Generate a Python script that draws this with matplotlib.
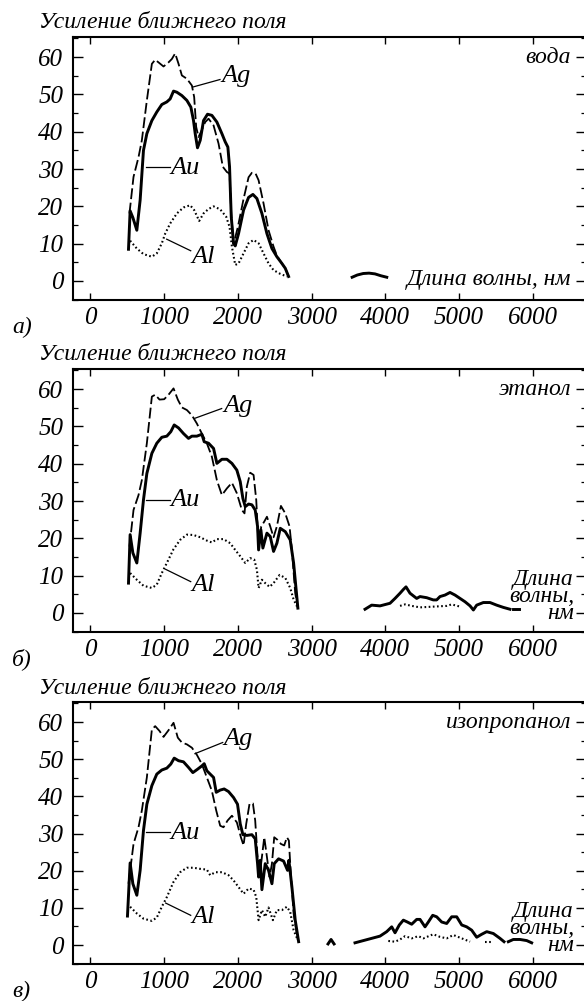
import numpy as np
import matplotlib
matplotlib.use("Agg")
import matplotlib.pyplot as plt
from matplotlib.ticker import MultipleLocator

plt.rcParams['font.family'] = ['Liberation Serif', 'DejaVu Serif']
plt.rcParams['font.style'] = 'italic'

# ---------------- data: panel a (water) ----------------
water_au_x = [516, 538, 575, 629, 674, 719, 765, 833, 900, 968, 1036, 1081, 1127, 1172, 1240, 1308, 1362, 1398,
              1421, 1452, 1489, 1534, 1588, 1647, 1715, 1783, 1828, 1864, 1887, 1910, 1941, 1964, 2009, 2077,
              2145, 2204, 2258, 2326, 2394, 2462, 2529, 2597, 2643, 2688]
water_au_y = [8.5, 18.8, 17.0, 13.6, 21.7, 35.0, 39.5, 43.0, 45.3, 47.3, 48.0, 48.8, 50.9, 50.6, 49.7, 48.4, 46.6, 43.0,
              39.5, 35.7, 37.7, 43.0, 44.7, 44.4, 42.6, 39.5, 37.3, 35.9, 30.6, 17.2, 10.1, 9.4, 12.7, 19.0,
              22.4, 23.2, 22.1, 18.1, 12.7, 8.7, 6.5, 4.7, 3.4, 1.2]
water_ag_x = [529, 584, 652, 697, 765, 833, 878, 923, 991, 1059, 1104, 1149, 1195, 1240, 1308, 1376, 1407, 1434,
              1466, 1498, 1557, 1602, 1670, 1738, 1796, 1851, 1887, 1910, 1941, 2000, 2077, 2145, 2190, 2240,
              2281, 2348, 2416, 2484, 2529, 2597, 2643, 2688]
water_ag_y = [18.1, 27.9, 33.2, 37.7, 48.4, 58.2, 59.3, 58.6, 57.5, 58.6, 59.5, 61.0, 58.2, 55.1, 54.2, 52.4, 49.3, 41.3,
              38.6, 39.9, 42.6, 43.5, 41.7, 36.8, 30.6, 29.2, 28.8, 18.1, 9.8, 14.5, 22.0, 27.8, 29.0, 28.8,
              27.0, 20.8, 13.6, 9.2, 6.8, 4.7, 3.4, 1.2]
water_al_x = [538, 629, 719, 833, 900, 968, 1014, 1081, 1172, 1262, 1353, 1407, 1475, 1534, 1602, 1670, 1760, 1842,
              1887, 1919, 1964, 2009, 2077, 2145, 2213, 2281, 2348, 2416, 2484, 2575, 2665]
water_al_y = [10.8, 8.7, 7.2, 6.5, 7.4, 10.1, 12.7, 15.4, 18.1, 19.7, 20.3, 19.0, 16.1, 18.1, 19.3, 20.0, 19.2, 17.2,
              14.5, 9.2, 4.3, 4.7, 7.4, 10.1, 11.0, 10.1, 7.4, 4.7, 2.9, 1.9, 1.2]
water_au_tail_x = [3550, 3620, 3700, 3780, 3860, 3940, 4020]
water_au_tail_y = [1.0, 1.6, 2.0, 2.1, 1.9, 1.4, 1.0]

# ---------------- data: panel b (ethanol) ----------------
eth_au_x = [516, 538, 575, 629, 674, 719, 765, 833, 900, 968, 1036, 1090, 1136, 1195, 1262, 1330, 1376, 1443, 1511,
            1543, 1602, 1670, 1715, 1783, 1851, 1919, 1986, 2032, 2068, 2100, 2145, 2190, 2235, 2267, 2281, 2312,
            2339, 2394, 2439, 2484, 2529, 2575, 2643, 2710, 2756, 2814]
eth_au_y = [8.0, 21.0, 16.1, 13.4, 21.4, 30.3, 37.4, 42.8, 45.5, 47.1, 47.4, 48.6, 50.4, 49.6, 48.1, 46.8, 47.4, 47.4, 47.9,
            45.9, 45.5, 44.1, 40.1, 41.2, 41.2, 40.1, 38.3, 35.2, 30.7, 28.5, 29.2, 29.0, 27.6, 23.2, 16.9, 22.3,
            17.4, 21.4, 20.5, 16.5, 18.7, 22.7, 21.8, 19.6, 13.4, 1.3]
eth_ag_x = [529, 584, 652, 697, 765, 833, 878, 937, 1000, 1059, 1127, 1185, 1240, 1308, 1376, 1443, 1511, 1579, 1647,
            1715, 1783, 1851, 1919, 1986, 2054, 2090, 2122, 2167, 2213, 2249, 2281, 2317, 2358, 2394, 2439, 2484,
            2529, 2584, 2643, 2701, 2733, 2778, 2814]
eth_ag_y = [17.8, 27.6, 31.6, 35.6, 45.5, 58.0, 58.5, 57.2, 57.3, 58.5, 60.2, 57.2, 55.1, 54.4, 53.0, 50.8, 48.1, 45.5, 41.9,
            35.6, 31.6, 33.4, 34.9, 32.1, 27.6, 26.7, 33.9, 37.6, 37.0, 30.3, 17.8, 23.2, 24.5, 25.8, 23.2, 20.3,
            23.2, 28.7, 26.7, 23.2, 16.9, 5.3, 1.3]
eth_al_x = [538, 629, 719, 833, 900, 968, 1036, 1127, 1217, 1308, 1398, 1489, 1579, 1647, 1715, 1805, 1896, 1964, 2032,
            2100, 2167, 2222, 2258, 2281, 2326, 2371, 2430, 2484, 2566, 2643, 2710, 2756, 2801]
eth_al_y = [10.7, 8.9, 7.3, 6.7, 7.6, 10.7, 13.4, 17.1, 19.6, 21.0, 20.9, 20.3, 19.4, 18.9, 19.8, 19.8, 18.7, 16.9, 15.2,
            13.4, 14.7, 14.3, 11.6, 6.7, 8.9, 8.0, 7.0, 8.0, 10.2, 9.4, 6.7, 3.6, 1.8]
eth_au_tail_x = [3725, 3815, 3928, 4064, 4132, 4200, 4245, 4281, 4335, 4380, 4426, 4471, 4561, 4651, 4697, 4742, 4810,
                 4878, 4946, 5014, 5082, 5150, 5195, 5240, 5330, 5421, 5511, 5601, 5692]
eth_au_tail_y = [1.0, 2.1, 1.9, 2.6, 3.9, 5.3, 6.3, 7.0, 5.3, 4.6, 3.9, 4.4, 4.1, 3.5, 3.5, 4.4, 4.8,
                 5.5, 4.8, 3.9, 3.0, 1.9, 0.8, 2.1, 2.8, 2.8, 2.1, 1.5, 1.0]
eth_au_dash_x = [5735, 5815]
eth_au_dash_y = [1.0, 1.0]
eth_al_tail_x = [4200, 4268, 4358, 4471, 4651, 4833, 4901, 5014]
eth_al_tail_y = [1.9, 2.3, 1.9, 1.5, 1.7, 1.9, 2.3, 1.7]

# ---------------- data: panel c (isopropanol) ----------------
iso_au_x = [502, 538, 575, 629, 674, 719, 765, 833, 900, 968, 1036, 1090, 1136, 1195, 1262, 1330, 1389, 1452, 1511, 1543,
            1579, 1624, 1670, 1706, 1760, 1814, 1873, 1941, 1995, 2032, 2068, 2122, 2190, 2235, 2267, 2281, 2303,
            2326, 2371, 2416, 2462, 2493, 2552, 2620, 2674, 2692, 2733, 2778, 2824]
iso_au_y = [7.8, 22.1, 16.5, 13.4, 20.1, 30.8, 37.9, 42.9, 46.0, 47.1, 47.6, 48.7, 50.3, 49.6, 49.3, 47.8, 46.4, 47.3, 48.2, 48.8,
            46.9, 46.0, 45.1, 41.1, 41.7, 42.0, 41.3, 39.7, 37.9, 32.6, 29.7, 29.5, 29.7, 28.6, 21.9, 18.3, 22.8,
            14.9, 21.9, 20.1, 16.5, 21.9, 23.2, 22.6, 20.1, 22.8, 15.6, 6.7, 0.9]
iso_ag_x = [516, 584, 652, 697, 765, 833, 878, 937, 991, 1059, 1127, 1185, 1240, 1308, 1376, 1443, 1511, 1579, 1647, 1706,
            1760, 1805, 1860, 1919, 1986, 2041, 2077, 2113, 2158, 2204, 2235, 2267, 2294, 2326, 2358, 2394, 2430,
            2462, 2493, 2538, 2584, 2629, 2665, 2692, 2710, 2756, 2814]
iso_ag_y = [16.5, 27.2, 31.7, 36.2, 45.1, 58.0, 58.9, 57.6, 56.0, 57.8, 59.8, 55.8, 54.5, 54.0, 53.1, 51.2, 48.7, 45.1, 41.5, 36.2,
            32.1, 31.7, 33.5, 34.8, 33.0, 29.0, 26.8, 32.6, 38.0, 38.1, 33.5, 23.7, 18.3, 23.7, 29.0, 23.7, 18.3,
            21.9, 29.0, 28.3, 27.2, 26.8, 29.0, 28.1, 21.9, 8.5, 1.3]
iso_al_x = [538, 629, 719, 833, 900, 968, 1036, 1127, 1217, 1308, 1398, 1489, 1579, 1624, 1692, 1783, 1873, 1941, 2009,
            2077, 2145, 2213, 2249, 2281, 2326, 2371, 2416, 2475, 2529, 2597, 2665, 2710, 2756, 2814]
iso_al_y = [10.3, 8.5, 7.1, 6.5, 7.4, 10.3, 12.9, 17.0, 19.6, 20.8, 20.8, 20.5, 20.3, 18.8, 19.6, 19.6, 18.8, 17.4, 15.6,
            13.8, 15.2, 14.9, 12.9, 6.7, 9.4, 7.6, 10.1, 6.7, 9.4, 9.4, 10.3, 8.9, 4.0, 1.3]
iso_au_bump_x = [3223, 3264, 3305]
iso_au_bump_y = [0.3, 1.5, 0.3]
iso_au_tail_x = [3589, 3702, 3815, 3928, 4019, 4087, 4132, 4190, 4245, 4299, 4358, 4426, 4471, 4539, 4584, 4643, 4697,
                 4765, 4833, 4901, 4969, 5037, 5104, 5172, 5240, 5308, 5376, 5466, 5556, 5611]
iso_au_tail_y = [0.6, 1.2, 1.8, 2.4, 3.6, 4.9, 3.3, 5.4, 6.7, 6.2, 5.6, 6.9, 6.9, 4.9, 6.2, 8.0, 7.6,
                 6.2, 5.8, 7.6, 7.6, 5.4, 4.9, 4.0, 2.1, 2.9, 3.6, 3.1, 1.8, 0.9]
iso_au_tail2_x = [5669, 5737, 5828, 5919, 5986]
iso_au_tail2_y = [0.9, 1.5, 1.5, 1.2, 0.6]
iso_al_tail_x = [4041, 4132, 4200, 4268, 4358, 4448, 4516, 4651, 4742, 4833, 4923, 5037, 5150]
iso_al_tail_y = [1.1, 0.9, 1.5, 2.4, 1.8, 2.4, 1.8, 2.9, 2.2, 1.8, 2.7, 1.8, 0.9]
iso_al_tail2_x = [5353, 5466]
iso_al_tail2_y = [0.9, 0.9]

x_ticks = [0, 1000, 2000, 3000, 4000, 5000, 6000]
y_ticks = [0, 10, 20, 30, 40, 50, 60]
solvents = ['вода', 'этанол', 'изопропанол']
panel_labels = ['а)', 'б)', 'в)']
title_text = 'Усиление ближнего поля'

W, H = 584, 1001
fig = plt.figure(figsize=(W / 100, H / 100), dpi=100)

boxes = [(37, 300), (369, 632), (702, 964)]
left_px, right_px = 73, 586

FS = 17
TFS = 18
LFS = 19
AU = dict(color='black', lw=2.1, solid_joinstyle='round')
AG = dict(color='black', lw=1.3, dashes=(6, 2.0))
AL = dict(color='black', lw=1.5, linestyle=(0, (0.8, 1.2)))
LEAD = dict(color='black', lw=0.9)

panels = [
    dict(au=[(water_au_x, water_au_y), (water_au_tail_x, water_au_tail_y)],
         ag=[(water_ag_x, water_ag_y)],
         al=[(water_al_x, water_al_y)]),
    dict(au=[(eth_au_x, eth_au_y), (eth_au_tail_x, eth_au_tail_y), (eth_au_dash_x, eth_au_dash_y)],
         ag=[(eth_ag_x, eth_ag_y)],
         al=[(eth_al_x, eth_al_y), (eth_al_tail_x, eth_al_tail_y)]),
    dict(au=[(iso_au_x, iso_au_y), (iso_au_bump_x, iso_au_bump_y), (iso_au_tail_x, iso_au_tail_y),
             (iso_au_tail2_x, iso_au_tail2_y)],
         ag=[(iso_ag_x, iso_ag_y)],
         al=[(iso_al_x, iso_al_y), (iso_al_tail_x, iso_al_tail_y), (iso_al_tail2_x, iso_al_tail2_y)]),
]

ag_lead = [((1391, 52.0), (1757, 54.0), (1780, 55.0)),
           ((1418, 52.2), (1780, 54.8), (1800, 55.4)),
           ((1418, 51.5), (1794, 54.5), (1800, 55.4))]
au_lead = [((749, 30.6), (1079, 30.6), (1080, 30.3)),
           ((749, 30.3), (1079, 30.3), (1080, 30.3)),
           ((749, 30.3), (1079, 30.3), (1080, 30.1))]
al_lead = [((1034, 11.2), (1360, 8.1), (1375, 6.5)),
           ((1020, 11.7), (1360, 8.4), (1375, 7.5)),
           ((1020, 11.3), (1360, 8.0), (1365, 7.6))]

for i, (top, bot) in enumerate(boxes):
    ax = fig.add_axes([left_px / W, 1 - bot / H, (right_px - left_px) / W, (bot - top) / H])
    p = panels[i]
    for xs, ys in p['ag']:
        ax.plot(xs, ys, **AG)
    for xs, ys in p['al']:
        ax.plot(xs, ys, **AL)
    for xs, ys in p['au']:
        ax.plot(xs, ys, **AU)

    ax.set_xlim(-237, 6723)
    ax.set_ylim(-5.1, 65.4)
    ax.set_xticks(x_ticks)
    ax.set_xticklabels([str(t) for t in x_ticks], fontstyle='italic', fontsize=TFS)
    ax.set_yticks(y_ticks)
    ax.set_yticklabels([str(t) for t in y_ticks], fontstyle='italic', fontsize=TFS)
    ax.yaxis.set_minor_locator(MultipleLocator(5))
    ax.tick_params(axis='x', which='major', direction='in', top=True, bottom=True,
                   length=5, width=1.0, pad=5)
    ax.tick_params(axis='y', which='major', direction='in', left=True, right=True,
                   length=7, width=1.0, pad=7)
    ax.tick_params(axis='y', which='minor', direction='in', left=True, right=True,
                   length=3.5, width=0.9)
    for s in ax.spines.values():
        s.set_linewidth(1.5)

    (a0, a1, at) = ag_lead[i]
    ax.plot([a0[0], a1[0]], [a0[1], a1[1]], **LEAD)
    ax.text(at[0], at[1], 'Ag', fontsize=LFS, ha='left', va='center')
    (u0, u1, ut) = au_lead[i]
    ax.plot([u0[0], u1[0]], [u0[1], u1[1]], **LEAD)
    ax.text(ut[0], ut[1], 'Au', fontsize=LFS, ha='left', va='center')
    (l0, l1, lt) = al_lead[i]
    ax.plot([l0[0], l1[0]], [l0[1], l1[1]], **LEAD)
    ax.text(lt[0], lt[1], 'Al', fontsize=LFS, ha='left', va='center')

    xr = (571 - left_px) / (right_px - left_px)
    ytr = ax.get_yaxis_transform()
    ax.text(xr, 60, solvents[i], transform=ytr, ha='right', va='center', fontsize=FS)
    if i == 0:
        ax.text(xr, 0.3, 'Длина волны, нм', transform=ytr, ha='right', va='center', fontsize=FS)
    else:
        ax.text(xr + 0.006, -3.0, 'Длина\nволны,\nнм', transform=ytr, ha='right', va='bottom',
                multialignment='right', linespacing=0.77, fontsize=FS)

    fig.text(39 / W, 1 - (top - 14) / H, title_text, ha='left', va='center', fontsize=FS)
    fig.text(12 / W, 1 - (bot + 27) / H, panel_labels[i], ha='left', va='center', fontsize=FS)

fig.savefig('out.png', dpi=100)
